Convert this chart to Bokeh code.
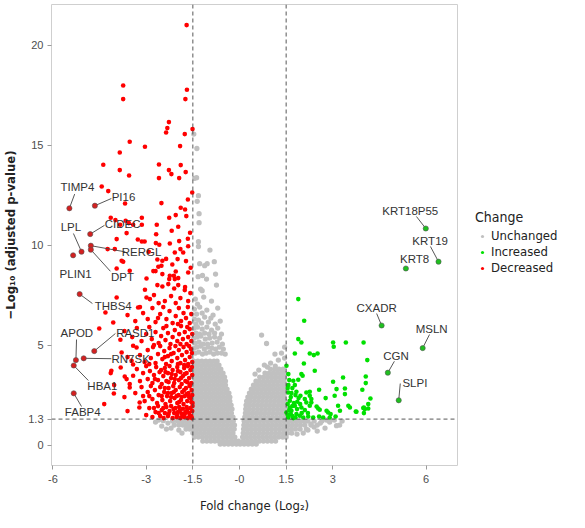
from bokeh.plotting import figure
from bokeh.models import Span, Legend, LegendItem, FixedTicker
from bokeh.layouts import row
from bokeh.core.properties import value
from bokeh.embed import file_html
from bokeh.resources import INLINE

# ---------------- data ----------------
x_ticks = [-6, -3, -1.5, 0, 1.5, 3, 6]
x_tick_labels = ["-6", "-3", "-1.5", "-0", "1.5", "3", "6"]
y_ticks = [0, 1.3, 5, 10, 15, 20]
y_tick_labels = ["0", "1.3", "5", "10", "15", "20"]
fc_cut = 1.5
p_cut = 1.3
change_labels = ["Unchanged", "Increased", "Decreased"]

# dense grey cloud: each row is one -log10(p) level with fold changes read along it
grey_row_y = [0.05, 0.2, 0.4, 0.6, 0.8, 1.0, 1.2, 1.4, 1.6, 1.8, 2.0,
              2.2, 2.4, 2.6, 2.8, 3.0, 3.2, 3.4, 3.6, 3.8, 4.0, 4.2]
grey_row_x = [
    [-0.62, -0.49, -0.36, -0.23, -0.1, 0.02, 0.15, 0.28, 0.41, 0.54],
    [-1.18, -1.05, -0.92, -0.79, -0.66, -0.53, -0.4, -0.27, -0.14, -0.03, 0.12, 0.25, 0.38, 0.51, 0.64, 0.77, 0.9, 1.03, 1.16],
    [-1.45, -1.32, -1.19, -1.06, -0.93, -0.8, -0.67, -0.54, -0.41, -0.28, -0.15, 0.1, 0.22, 0.35, 0.48, 0.61, 0.74, 0.87, 1.0, 1.13, 1.26, 1.39, 1.5],
    [-1.5, -1.38, -1.25, -1.12, -0.99, -0.86, -0.73, -0.6, -0.47, -0.34, -0.21, 0.12, 0.25, 0.38, 0.51, 0.64, 0.77, 0.9, 1.03, 1.16, 1.29, 1.42, 1.55, 1.68],
    [-1.72, -1.6, -1.47, -1.34, -1.21, -1.08, -0.95, -0.82, -0.69, -0.56, -0.43, -0.3, -0.17, 0.13, 0.24, 0.37, 0.5, 0.63, 0.76, 0.89, 1.02, 1.15, 1.28, 1.41, 1.54, 1.67, 1.8, 1.95, 2.15],
    [-2.1, -1.95, -1.82, -1.69, -1.56, -1.43, -1.3, -1.17, -1.04, -0.91, -0.78, -0.65, -0.52, -0.39, -0.26, -0.16, 0.14, 0.27, 0.4, 0.53, 0.66, 0.79, 0.92, 1.05, 1.18, 1.31, 1.44, 1.57, 1.7, 1.83, 1.96, 2.1, 2.3, 2.5],
    [-2.0, -1.88, -1.75, -1.62, -1.5, -1.37, -1.24, -1.11, -0.98, -0.85, -0.72, -0.59, -0.46, -0.33, -0.2, 0.15, 0.25, 0.38, 0.51, 0.64, 0.77, 0.9, 1.03, 1.16, 1.29, 1.42, 1.55, 1.68, 1.81, 1.94, 2.07, 2.2, 2.4, 2.65, 2.9],
    [-1.48, -1.35, -1.22, -1.09, -0.96, -0.83, -0.7, -0.57, -0.44, -0.31, -0.21, 0.17, 0.28, 0.41, 0.54, 0.67, 0.8, 0.93, 1.06, 1.19, 1.32, 1.45],
    [-1.43, -1.3, -1.17, -1.04, -0.91, -0.78, -0.65, -0.52, -0.39, -0.26, 0.19, 0.3, 0.43, 0.56, 0.69, 0.82, 0.95, 1.08, 1.21, 1.34, 1.47],
    [-1.48, -1.35, -1.22, -1.09, -0.96, -0.83, -0.7, -0.57, -0.44, -0.31, -0.24, 0.2, 0.32, 0.45, 0.58, 0.71, 0.84, 0.97, 1.1, 1.23, 1.36, 1.48],
    [-1.43, -1.3, -1.17, -1.04, -0.91, -0.78, -0.65, -0.52, -0.39, -0.27, 0.21, 0.33, 0.46, 0.59, 0.72, 0.85, 0.98, 1.11, 1.24, 1.37, 1.47],
    [-1.48, -1.35, -1.22, -1.09, -0.96, -0.83, -0.7, -0.57, -0.44, -0.31, 0.23, 0.35, 0.48, 0.61, 0.74, 0.87, 1.0, 1.13, 1.26, 1.39, 1.48],
    [-1.43, -1.3, -1.17, -1.04, -0.91, -0.78, -0.65, -0.52, -0.39, -0.31, 0.27, 0.38, 0.51, 0.64, 0.77, 0.9, 1.03, 1.16, 1.29, 1.42],
    [-1.48, -1.35, -1.22, -1.09, -0.96, -0.83, -0.7, -0.57, -0.44, -0.34, 0.32, 0.44, 0.57, 0.7, 0.83, 0.96, 1.09, 1.22, 1.35, 1.47],
    [-1.43, -1.3, -1.17, -1.04, -0.91, -0.78, -0.65, -0.52, -0.4, 0.38, 0.5, 0.63, 0.76, 0.89, 1.02, 1.15, 1.28, 1.41],
    [-1.48, -1.35, -1.22, -1.09, -0.96, -0.83, -0.7, -0.57, -0.45, 0.45, 0.57, 0.7, 0.83, 0.96, 1.09, 1.22, 1.35, 1.47],
    [-1.43, -1.3, -1.17, -1.04, -0.91, -0.78, -0.65, -0.52, -0.45, 0.53, 0.65, 0.78, 0.91, 1.04, 1.17, 1.3, 1.43],
    [-1.48, -1.35, -1.22, -1.09, -0.96, -0.83, -0.7, -0.57, -0.48, 0.65, 0.78, 0.91, 1.04, 1.17, 1.3, 1.43],
    [-1.43, -1.3, -1.17, -1.04, -0.91, -0.78, -0.65, -0.53, 0.82, 0.95, 1.08, 1.21, 1.34, 1.46],
    [-1.48, -1.35, -1.22, -1.09, -0.96, -0.83, -0.7, -0.6, 1.0, 1.14, 1.27, 1.4],
    [-1.43, -1.3, -1.17, -1.04, -0.91, -0.78, -0.66],
    [-1.47, -1.34, -1.21, -1.08, -0.95, -0.82, -0.72],
]

# scattered grey (unchanged) points
grey_x = [-1.47, -1.37, -1.44, -1.38, -1.32, -1.36, -1.30, -1.30, -1.32, -1.32, -0.95, -1.28,
          -1.12, -1.04, -0.81, -1.19, -1.33, -1.06, -0.77, -0.74, -1.25, -1.20,
          -1.42, -1.35, -1.15, -0.9, -1.45, -1.38, -1.28, -1.2, -1.05, -0.85, -0.7,
          -1.45, -1.4, -1.32, -1.22, -1.12, -1.0, -0.92, -0.78, -0.62,
          -1.46, -1.4, -1.35, -1.28, -1.2, -1.12, -1.05, -0.98, -0.9, -0.8, -0.7, -0.58,
          -1.47, -1.42, -1.36, -1.3, -1.24, -1.17, -1.1, -1.03, -0.96, -0.88, -0.8, -0.72, -0.64, -0.55,
          -1.47, -1.42, -1.37, -1.31, -1.25, -1.19, -1.13, -1.07, -1.01, -0.95, -0.89, -0.83, -0.77,
          -0.71, -0.65, -0.58, -0.52, -0.46,
          0.71, 0.87, 1.14, 1.35, 1.0, 1.25, 0.62, 0.8, 1.45, 0.9, 1.45, 0.5, 1.15,
          -2.3, -2.5, -2.7, -2.2, -1.85, -2.45, -2.15, -2.6, -1.95, -2.35,
          2.4, 2.6, 2.75, 3.12, 3.22, 2.9, 3.05, 2.2, 2.5, 1.85, 2.05, 2.3, 2.8, 3.3]
grey_y = [15.55, 14.83, 13.34, 13.37, 12.47, 12.19, 11.57, 11.12, 10.17, 9.93, 9.75, 9.07,
          8.97, 9.07, 9.17, 8.48, 8.42, 8.3, 8.55, 8.0, 7.8, 7.72,
          7.3, 7.05, 7.4, 7.2, 6.8, 6.55, 6.9, 6.6, 6.75, 6.5, 6.85,
          6.3, 6.05, 6.25, 6.1, 6.4, 6.15, 6.35, 6.05, 6.2,
          5.85, 5.6, 5.9, 5.55, 5.8, 5.6, 5.9, 5.55, 5.75, 5.6, 5.85, 5.55,
          5.35, 5.1, 5.4, 5.15, 5.45, 5.05, 5.3, 5.05, 5.35, 5.1, 5.4, 5.15, 5.35, 5.05,
          4.85, 4.6, 4.9, 4.65, 4.95, 4.55, 4.8, 4.6, 4.9, 4.65, 4.85, 4.55, 4.8,
          4.6, 4.9, 4.6, 4.8, 4.55,
          5.5, 5.08, 4.55, 4.6, 4.1, 4.25, 3.75, 4.0, 4.35, 3.9, 4.9, 3.55, 3.95,
          1.1, 0.95, 1.15, 0.85, 0.6, 1.22, 1.2, 1.25, 0.75, 0.8,
          0.9, 1.1, 0.85, 0.97, 1.0, 1.15, 1.25, 0.75, 0.7, 0.55, 0.6, 1.05, 1.25, 1.2]

# decreased (red) genes
red_x = [-1.70, -3.74, -3.74, -1.69, -1.74, -2.27, -2.32, -2.36, -1.51, -1.76, -3.53, -3.04,
         -3.85, -1.91, -4.38, -2.59, -1.89, -3.85, -3.55, -2.59, -2.27, -2.19, -1.94, -1.73,
         -4.43, -4.22, -1.52, -3.68, -2.51, -1.66, -1.89, -1.75, -4.14, -3.99, -3.66, -3.56,
         -3.42, -3.14, -3.84, -3.63, -3.95, -3.14, -2.66, -2.26, -2.05, -1.97, -2.18, -1.71,
         -1.59, -2.68, -3.27, -3.14, -3.05, -2.69, -2.58, -1.94, -1.66, -4.24, -4.01, -1.65, -1.90,
         -3.79, -3.74, -3.95, -3.53, -2.64, -2.48, -2.36, -2.24, -2.08, -1.81, -1.72, -2.92,
         -1.99, -1.57, -2.16, -2.61, -2.77, -2.70, -2.48, -2.05, -2.11, -1.97, -2.99, -2.24,
         -2.08, -1.65, -2.51,
         -3.04, -2.99, -2.88, -2.64, -2.48, -2.26, -2.10, -1.76, -2.29, -1.97, -1.75, -1.58,
         -2.75, -3.26, -2.6, -2.4, -2.2, -1.9, -1.65, -2.05, -3.95,
         -4.31, -4.06, -3.6, -3.35, -3.1, -2.95, -2.8, -2.7, -2.55, -2.45, -2.35, -2.25, -2.15,
         -2.05, -1.95, -1.88, -1.8, -1.72, -1.66, -1.6, -1.55, -2.62, -3.2, -1.98,
         -4.51, -3.83, -3.7, -3.45, -3.3, -3.15, -3.0, -2.9, -2.82, -2.7, -2.6, -2.52, -2.45,
         -2.38, -2.3, -2.22, -2.15, -2.08, -2.0, -1.94, -1.88, -1.82, -1.76, -1.7, -1.65, -1.6,
         -1.55, -1.52, -2.75, -1.9, -2.35, -1.68,
         -3.79, -3.47, -3.42, -3.42, -3.31, -3.2, -3.05, -2.95, -2.85, -2.78, -2.7, -2.62, -2.55,
         -2.48, -2.42, -2.36, -2.3, -2.25, -2.18, -2.12, -2.06, -2.0, -1.95, -1.9, -1.85, -1.8,
         -1.75, -1.7, -1.65, -1.6, -1.56, -1.52, -1.53, -1.62, -1.78, -1.98, -2.2, -2.4, -2.9, -3.6,
         -4.12, -4.14, -3.82, -3.69, -3.63, -3.42, -3.53, -3.3, -3.2, -3.1, -3.0, -2.95, -2.88,
         -2.8, -2.75, -2.68, -2.62, -2.57, -2.5, -2.45, -2.4, -2.35, -2.3, -2.25, -2.2, -2.15,
         -2.1, -2.05, -2.0, -1.95, -1.9, -1.86, -1.82, -1.78, -1.74, -1.7, -1.66, -1.62, -1.58,
         -1.55, -1.52, -1.53, -1.6, -1.68, -1.76, -1.88, -1.98, -2.08, -2.18, -2.28, -2.38,
         -2.52, -2.72,
         -4.03, -4.04, -3.53, -3.7, -3.35, -3.15, -3.05, -2.95, -2.85, -2.8, -2.72, -2.65, -2.6,
         -2.55, -2.48, -2.42, -2.38, -2.33, -2.28, -2.23, -2.18, -2.13, -2.09, -2.05, -2.0, -1.96,
         -1.92, -1.88, -1.84, -1.8, -1.76, -1.72, -1.68, -1.64, -1.6, -1.57, -1.54, -1.51, -1.52,
         -1.55, -1.62, -1.7, -1.78, -1.86, -1.94, -2.02, -2.11, -2.2, -2.3, -2.4, -2.5, -2.9, -3.1,
         -4.35, -3.21, -3.22, -3.6, -3.0, -2.9, -2.8, -2.7, -2.62, -2.55, -2.5, -2.44, -2.4,
         -2.35, -2.3, -2.25, -2.2, -2.15, -2.1, -2.06, -2.02, -1.98, -1.94, -1.9, -1.86, -1.82,
         -1.78, -1.74, -1.7, -1.66, -1.62, -1.58, -1.55, -1.52, -1.51, -1.53, -1.6, -1.68, -1.76,
         -1.84, -1.92, -2.0, -2.12, -2.28, -2.45, -2.6, -2.75]
red_y = [21.0, 17.98, 17.3, 17.77, 17.3, 16.15, 15.85, 15.63, 15.8, 15.55, 15.17, 14.92,
         14.63, 14.95, 14.02, 14.03, 14.0, 13.75, 13.48, 13.35, 13.75, 13.55, 13.35, 13.65,
         12.93, 12.7, 12.63, 12.08, 12.1, 12.28, 11.87, 11.78, 11.37, 11.25, 11.22, 11.1,
         11.02, 11.37, 11.02, 10.6, 10.3, 11.02, 11.02, 11.37, 11.5, 10.92, 10.72, 11.45,
         10.62, 10.54, 10.28, 10.18, 10.18, 10.1, 10.02, 10.2, 10.32, 9.8, 9.8, 9.94, 9.8,
         9.22, 9.17, 8.83, 8.72, 9.28, 9.22, 9.31, 10.08, 9.63, 9.63, 9.2, 9.67,
         9.3, 8.87, 9.03, 8.92, 8.7, 8.7, 8.55, 8.68, 8.47, 8.35, 8.33, 8.47,
         8.3, 8.63, 8.97,
         7.77, 7.38, 7.3, 8.0, 7.93, 8.3, 7.83, 7.75, 8.05, 8.0, 7.9, 7.6,
         7.5, 6.88, 7.1, 7.2, 7.45, 7.35, 7.2, 7.1, 7.38,
         6.63, 6.13, 6.5, 6.2, 6.6, 6.3, 6.85, 6.15, 6.55, 6.9, 6.3, 6.7, 6.1,
         6.45, 6.85, 6.2, 6.6, 6.35, 6.9, 6.1, 6.55, 6.35, 6.9, 6.05,
         5.83, 5.27, 5.7, 5.4, 5.85, 5.2, 5.55, 5.9, 5.3, 5.65, 5.1, 5.45, 5.85,
         5.25, 5.6, 5.05, 5.4, 5.75, 5.2, 5.55, 5.95, 5.3, 5.65, 5.05, 5.4, 5.8,
         5.2, 5.55, 5.0, 5.05, 5.95, 5.9,
         4.63, 4.22, 4.03, 4.97, 4.88, 4.5, 4.15, 4.75, 4.35, 4.9, 4.1, 4.55, 4.95,
         4.3, 4.7, 4.05, 4.45, 4.85, 4.2, 4.6, 4.95, 4.35, 4.75, 4.1, 4.5, 4.9,
         4.25, 4.65, 4.05, 4.4, 4.8, 4.15, 4.6, 4.95, 4.0, 4.05, 4.55, 4.4, 4.05, 4.4,
         3.72, 3.6, 3.88, 3.43, 3.3, 3.47, 3.05, 3.8, 3.2, 3.6, 3.95, 3.3, 3.7,
         3.1, 3.5, 3.9, 3.25, 3.65, 3.05, 3.45, 3.85, 3.2, 3.6, 3.95, 3.35, 3.75,
         3.1, 3.5, 3.9, 3.25, 3.65, 3.05, 3.45, 3.85, 3.2, 3.6, 3.95, 3.35, 3.75,
         3.1, 3.5, 3.9, 3.0, 3.15, 3.55, 3.35, 3.7, 3.3, 3.55, 3.15, 3.65,
         3.75, 3.3,
         3.0, 2.58, 2.88, 2.4, 2.6, 2.9, 2.2, 2.65, 2.95, 2.3, 2.75, 2.1, 2.5,
         2.9, 2.25, 2.65, 2.05, 2.45, 2.85, 2.2, 2.6, 2.95, 2.35, 2.75, 2.1, 2.5,
         2.9, 2.25, 2.65, 2.05, 2.45, 2.85, 2.2, 2.6, 2.95, 2.35, 2.75, 2.1, 2.5,
         2.15, 2.4, 2.55, 2.75, 2.4, 2.15, 2.45, 2.65, 2.4, 2.6, 2.85, 2.45, 2.45, 2.45,
         2.05, 2.13, 1.88, 1.7, 1.5, 1.85, 1.4, 1.65, 1.95, 1.45, 1.75, 1.35, 1.6,
         1.9, 1.45, 1.7, 1.95, 1.35, 1.6, 1.85, 1.4, 1.65, 1.9, 1.35, 1.58, 1.82,
         1.4, 1.65, 1.9, 1.35, 1.6, 1.85, 1.45, 1.7, 1.95, 1.35, 1.45, 1.75, 1.55,
         1.45, 1.72, 1.5, 1.8, 1.55, 1.85, 1.6, 1.85]

# increased (green) genes
green_x = [1.89, 2.08, 1.89, 1.99, 3.01, 3.03, 3.42, 3.99, 1.78, 2.26, 2.39, 2.51, 4.11, 2.07,
           1.51, 2.42, 1.99, 2.03, 1.57, 4.06, 3.33, 1.73, 1.89, 3.01, 4.06, 1.57, 1.78, 2.56,
           3.12, 3.39, 3.95, 1.57, 1.67, 1.83, 2.15, 2.26, 1.96, 2.26, 2.31, 2.77, 3.06, 3.39,
           4.21, 1.62, 1.86, 1.62, 1.78, 2.15, 2.26, 2.31, 1.99, 2.48, 2.53, 2.58, 2.80, 2.85,
           2.93, 3.17, 3.23, 3.50, 3.55, 3.74, 4.0, 4.14, 1.51, 1.67, 1.83, 1.94, 1.57, 1.73,
           2.05, 2.21, 2.37, 2.56, 2.69, 2.90, 3.09, 4.14, 3.98, 4.03, 3.76, 4.0,
           1.55, 1.6, 1.7, 1.75, 1.85, 1.9, 1.65, 1.55, 1.7, 1.8, 1.95, 2.0, 2.1, 1.6, 1.55,
           1.7, 2.1, 2.2, 1.8, 1.65]
green_y = [7.3, 6.22, 5.3, 5.13, 5.13, 4.92, 5.13, 5.13, 4.58, 4.58, 4.5, 4.58, 4.25, 4.08,
           3.97, 3.72, 3.55, 3.47, 3.55, 3.43, 3.38, 3.22, 3.27, 3.17, 3.1, 3.0, 3.0, 2.77,
           2.8, 2.83, 2.77, 2.63, 2.6, 2.67, 2.63, 2.67, 2.47, 2.47, 2.3, 2.35, 2.47, 2.55,
           2.33, 2.22, 2.17, 1.88, 1.97, 2.13, 1.97, 2.13, 1.88, 1.93, 1.83, 1.77, 1.72, 1.63,
           1.55, 1.97, 1.72, 1.97, 1.88, 1.68, 1.88, 1.83, 1.63, 1.72, 1.55, 1.47, 1.38, 1.35,
           1.38, 1.43, 1.38, 1.43, 1.38, 1.38, 1.43, 2.05, 1.85, 1.8, 1.67, 1.6,
           1.5, 1.75, 1.45, 2.1, 1.8, 2.35, 2.4, 2.05, 2.85, 2.5, 2.05, 1.6, 1.75, 3.25, 2.85,
           1.95, 2.3, 1.6, 1.38, 1.55]

# labelled genes: point, label centre, end of leader line (None = no leader)
lab_gene = ["TIMP4", "PI16", "CIDEC", "LPL", "RERGL", "DPT", "PLIN1", "THBS4", "RASD1", "APOD",
            "RN7SK", "HBA1", "FABP4", "KRT18P55", "KRT19", "KRT8", "CXADR", "MSLN", "CGN", "SLPI"]
lab_change = ["Decreased"] * 13 + ["Increased"] * 7
lab_x = [-5.47, -4.65, -4.80, -5.08, -4.78, -4.78, -5.35, -5.14, -4.67, -5.26,
         -5.01, -5.33, -5.33, 5.99, 6.40, 5.35, 4.57, 5.89, 4.77, 5.12]
lab_y = [11.84, 11.97, 10.55, 9.67, 9.97, 9.77, 9.49, 7.55, 4.70, 4.25,
         4.34, 3.98, 2.59, 10.83, 9.17, 8.83, 5.98, 4.85, 3.62, 2.24]
lab_tx = [-5.21, -3.73, -3.76, -5.42, -3.15, -3.76, -5.27, -4.06, -3.35, -5.23,
          -3.50, -4.41, -5.04, 5.49, 6.13, 5.63, 4.41, 6.18, 5.03, 5.64]
lab_ty = [12.89, 12.39, 11.06, 10.89, 9.68, 8.40, 8.57, 6.97, 5.63, 5.59,
          4.30, 2.97, 1.64, 11.72, 10.22, 9.30, 6.87, 5.83, 4.47, 3.12]
lead_x = [-5.30, -4.12, -4.34, -5.34, -3.67, -4.15, None, -4.73, -3.99, -5.24,
          -4.12, -4.86, -5.08, 5.69, 6.14, None, 4.41, 6.11, 4.98, 5.17]
lead_y = [12.55, 12.33, 10.99, 10.58, 9.66, 8.69, None, 7.08, 5.58, 5.28,
          4.32, 3.23, 1.93, 11.43, 9.93, None, 6.58, 5.53, 4.19, 3.08]

# ---------------- build ----------------
gx, gy = [], []
for yy, r in zip(grey_row_y, grey_row_x):
    gx += r
    gy += [yy] * len(r)
gx += grey_x
gy += grey_y

NARROW = "'Liberation Sans Narrow', 'DejaVu Sans Condensed', 'Liberation Sans', sans-serif"
SANS = "'Liberation Sans', Arial, sans-serif"

grey_col = "#c0c0c0"
red_col = "#ff0000"
green_col = "#00e000"

p = figure(frame_width=406, frame_height=461, x_range=(-6.045, 7.01), y_range=(-1.02, 22.03),
           output_backend="svg", toolbar_location=None,
           min_border_left=47, min_border_top=4, min_border_bottom=40, min_border_right=2)
p.xgrid.grid_line_color = None
p.ygrid.grid_line_color = None
p.outline_line_color = "#cfcfcf"
p.outline_line_width = 1
p.background_fill_color = "white"

p.scatter(gx, gy, size=5.3, fill_color=grey_col, line_color=None)
p.scatter(green_x, green_y, size=4.6, fill_color=green_col, line_color=None)
p.scatter(red_x, red_y, size=4.6, fill_color=red_col, line_color=None)

# leader lines
sx0 = [lab_x[i] for i in range(len(lab_gene)) if lead_x[i] is not None]
sy0 = [lab_y[i] for i in range(len(lab_gene)) if lead_x[i] is not None]
sx1 = [v for v in lead_x if v is not None]
sy1 = [v for v in lead_y if v is not None]
p.segment(sx0, sy0, sx1, sy1, line_color="#444444", line_width=0.9)

lab_fill = ["#d42020" if c == "Decreased" else "#1fbf1f" for c in lab_change]
p.scatter(lab_x, lab_y, size=5.2, fill_color=lab_fill, line_color="#555555", line_width=0.6)
p.text(lab_tx, lab_ty, text=lab_gene, text_align="center", text_baseline="middle",
       text_font=value(SANS), text_font_size="11.5px", text_color="#333333")

for loc in (-fc_cut, fc_cut):
    p.add_layout(Span(location=loc, dimension="height", line_color="#444444",
                      line_dash="4 3", line_width=0.9))
p.add_layout(Span(location=p_cut, dimension="width", line_color="#444444",
                  line_dash="4 3", line_width=0.9))

for ax, ticks, labels in ((p.xaxis[0], x_ticks, x_tick_labels), (p.yaxis[0], y_ticks, y_tick_labels)):
    ax.ticker = FixedTicker(ticks=ticks, minor_ticks=[])
    ax.major_label_overrides = {float(t): l for t, l in zip(ticks, labels)}
    ax.axis_line_color = None
    ax.major_tick_line_color = "#9a9a9a"
    ax.major_tick_in = 0
    ax.major_tick_out = 4
    ax.minor_tick_line_color = None
    ax.major_label_text_font = SANS
    ax.major_label_text_font_size = "11px"
    ax.major_label_text_color = "#4d4d4d"
    ax.axis_label_text_font = NARROW
    ax.axis_label_text_font_style = "normal"
    ax.axis_label_text_color = "#222222"
    ax.axis_label_text_font_size = "13px"

p.xaxis.axis_label = "Fold change (Log\u2082)"
p.yaxis.axis_label = "\u2212Log\u2081\u2080 (adjusted p-value)"
p.xaxis.major_label_standoff = 5
p.xaxis.axis_label_standoff = 12
p.yaxis.major_label_standoff = 4
p.yaxis.axis_label_standoff = 7
p.yaxis.axis_label_text_font_style = "bold"

# ---------------- legend panel (separate narrow figure on the right) ----------------
leg = figure(width=110, height=512, x_range=(0, 1), y_range=(0, 1),
             x_axis_location=None, y_axis_location=None,
             output_backend="svg", toolbar_location=None, min_border=0)
leg.xgrid.grid_line_color = None
leg.ygrid.grid_line_color = None
leg.outline_line_color = None
items = []
for lab, col in zip(change_labels, [grey_col, green_col, red_col]):
    # key-only renderer: no visible data, the legend draws its swatch
    rr = leg.scatter(x=[float("nan")], y=[float("nan")], size=3.4, fill_color=col, line_color=None)
    items.append(LegendItem(label=lab, renderers=[rr]))
legend = Legend(items=items, title="Change", location=(16, 187), orientation="vertical",
                border_line_color=None, background_fill_alpha=0,
                margin=0, padding=10, spacing=1,
                glyph_width=14, glyph_height=8, label_height=12, label_standoff=2,
                title_standoff=3)
legend.title_text_font = NARROW
legend.title_text_font_size = "14px"
legend.title_text_font_style = "normal"
legend.title_text_color = "#222222"
legend.label_text_font = NARROW
legend.label_text_font_size = "13px"
legend.label_text_color = "#222222"
leg.add_layout(legend)

layout = row(p, leg)
open("out.html", "w").write(file_html(layout, INLINE))
